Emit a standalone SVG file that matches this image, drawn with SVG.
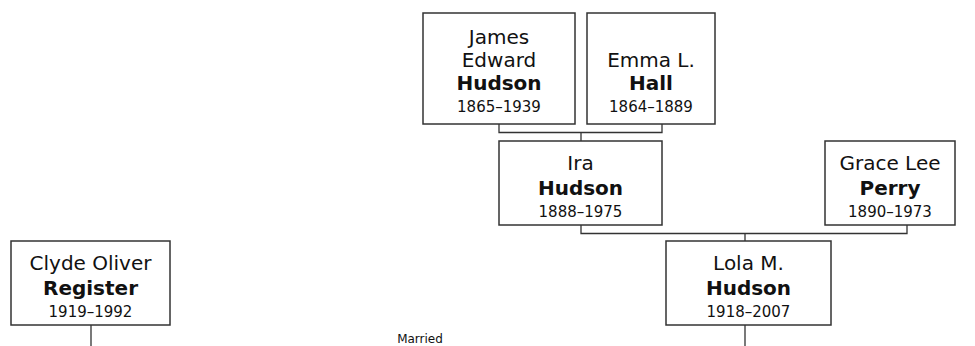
<svg xmlns="http://www.w3.org/2000/svg" width="975" height="346" viewBox="0 0 975 346">
<style>
.box{fill:#fff;stroke:#333;stroke-width:1.5}
.n{font-family:"DejaVu Sans",Verdana,sans-serif;font-size:20px;fill:#111;text-anchor:middle}
.b{font-weight:bold}
.y{font-family:"DejaVu Sans",Verdana,sans-serif;font-size:15px;fill:#111;text-anchor:middle}
.c{fill:none;stroke:#333;stroke-width:1.3}
.lbl{font-family:"DejaVu Sans",Verdana,sans-serif;font-size:12px;fill:#111;text-anchor:middle}
</style>
<rect width="975" height="346" fill="#fff"/>
<g id="connectors">
<path class="c" d="M499,124V132.5H662V124M581,132.5V141"/>
<path class="c" d="M581,225V233.5H907V225M745,233.5V241"/>
<path class="c" d="M91,325V346M745,325V346"/>
</g>
<g id="james">
<rect class="box" x="423" y="13" width="152" height="111"/>
<text class="n" x="499" y="44">James</text>
<text class="n" x="499" y="67">Edward</text>
<text class="n b" x="499" y="90">Hudson</text>
<text class="y" x="499" y="112">1865–1939</text>
</g>
<g id="emma">
<rect class="box" x="587" y="13" width="128" height="111"/>
<text class="n" x="651" y="67">Emma L.</text>
<text class="n b" x="651" y="90">Hall</text>
<text class="y" x="651" y="112">1864–1889</text>
</g>
<g id="ira">
<rect class="box" x="499" y="141" width="163" height="84"/>
<text class="n" x="580.5" y="170">Ira</text>
<text class="n b" x="580.5" y="195">Hudson</text>
<text class="y" x="580.5" y="217">1888–1975</text>
</g>
<g id="grace">
<rect class="box" x="825" y="141" width="130" height="84"/>
<text class="n" x="890" y="170">Grace Lee</text>
<text class="n b" x="890" y="195">Perry</text>
<text class="y" x="890" y="217">1890–1973</text>
</g>
<g id="clyde">
<rect class="box" x="11" y="241" width="159" height="84"/>
<text class="n" x="90.5" y="270">Clyde Oliver</text>
<text class="n b" x="90.5" y="295">Register</text>
<text class="y" x="90.5" y="317">1919–1992</text>
</g>
<g id="lola">
<rect class="box" x="666" y="241" width="165" height="84"/>
<text class="n" x="748.5" y="270">Lola M.</text>
<text class="n b" x="748.5" y="295">Hudson</text>
<text class="y" x="748.5" y="317">1918–2007</text>
</g>
<text class="lbl" x="420" y="343">Married</text>
</svg>
